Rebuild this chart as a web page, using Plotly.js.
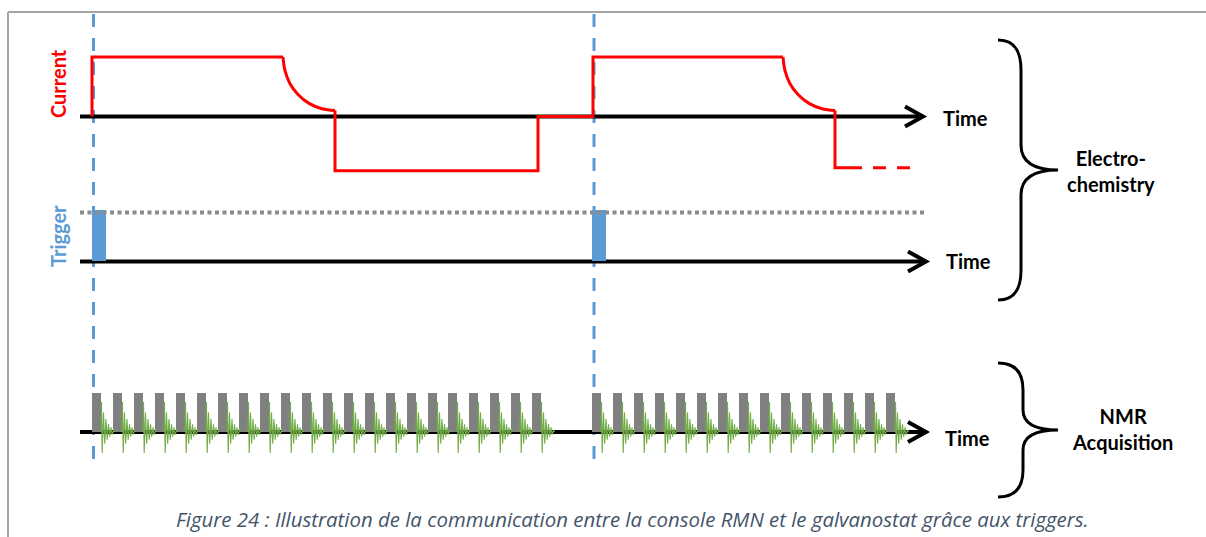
<!DOCTYPE html>
<html>
<head>
<meta charset="utf-8">
<script src="https://cdn.plot.ly/plotly-3.0.1.min.js"></script>
<style>html,body{margin:0;padding:0;background:#fff;}#chart{width:1206px;height:537px;}</style>
</head>
<body>
<div id="chart"></div>
<script>
// ---------- Current (galvanostat) waveform ----------
const currentStepT = [92, 92, 283, null, 335, 335, 538, 538, 593, 593, 783, null, 835, 835, 862];
const currentStepI = [0, 1, 1, null, 0.10, -0.91, -0.91, 0, 0, 1, 1, null, 0.10, -0.86, -0.86];
const decayStartT = [283, 783];
const decayDT = [0, 2, 7, 15, 26, 39, 52];
const decayI = [1, 0.77, 0.55, 0.37, 0.22, 0.13, 0.10];
const continuedT = [873, 910];
const continuedI = [-0.86, -0.86];

// ---------- Trigger ----------
const triggerT = [92, 592];
const triggerLevel = [1, 1];
const triggerDuration = 14;
const thresholdT = [80, 925];
const thresholdV = [0.95, 0.95];

// ---------- NMR acquisition: pulse start times and FID ----------
const pulseT = [92, 113, 134, 155, 176, 197, 218, 239, 260, 281, 302, 323, 344, 365, 386, 407, 428, 448, 469, 490, 511, 532,
                592, 613, 634, 655, 676, 697, 718, 739, 760, 781, 802, 823, 844, 865, 886];
const pulseDuration = 9;
const fidDT = [0, 0.5, 1.2, 2.5, 3.7, 5, 6.2, 7.5, 8.7, 10, 11.2, 12.5, 13.5];
const fidV  = [0, 0.77, -0.54, 0.5, -0.3, 0.33, -0.2, 0.2, -0.12, 0.12, -0.07, 0.05, 0];

// ---------- Sync markers (time of dashed lines) ----------
const syncT = [93.5, 594];

// ---------- Text ----------
const axisLabel = 'Time';
const caption = 'Figure 24 : Illustration de la communication entre la console RMN et le galvanostat grâce aux triggers.';

// build decay curves
const decX = [], decY = [];
decayStartT.forEach(t0 => { decayDT.forEach((d, i) => { decX.push(t0 + d); decY.push(decayI[i]); }); decX.push(null); decY.push(null); });
// build FIDs
const fidX = [], fidY = [];
pulseT.forEach(t0 => { fidDT.forEach((d, i) => { fidX.push(t0 + pulseDuration + d); fidY.push(fidV[i]); }); fidX.push(null); fidY.push(null); });

const RED = '#FF0000', BLUE = '#5B9BD5';

const traces = [
  {x: thresholdT, y: thresholdV, yaxis: 'y2', mode: 'lines', line: {color: '#8C8C8C', width: 4, dash: '4px,3.5px'}, hoverinfo: 'skip'},
  {type: 'bar', x: triggerT, y: triggerLevel, yaxis: 'y2', width: triggerDuration, offset: 0, base: 0, marker: {color: BLUE, line: {width: 0}}, hoverinfo: 'skip'},
  {type: 'bar', x: pulseT, y: pulseT.map(() => 1), yaxis: 'y3', width: pulseDuration, offset: 0, base: 0, marker: {color: '#808080', line: {width: 0}}, hoverinfo: 'skip'},
  {x: fidX, y: fidY, yaxis: 'y3', mode: 'lines', line: {color: '#70AD47', width: 1.1}, connectgaps: false, hoverinfo: 'skip'},
  {x: currentStepT, y: currentStepI, yaxis: 'y', mode: 'lines', line: {color: RED, width: 3}, connectgaps: false, hoverinfo: 'skip'},
  {x: decX, y: decY, yaxis: 'y', mode: 'lines', line: {color: RED, width: 3, shape: 'spline'}, connectgaps: false, hoverinfo: 'skip'},
  {x: continuedT, y: continuedI, yaxis: 'y', mode: 'lines', line: {color: RED, width: 3, dash: '13px,11px'}, hoverinfo: 'skip'}
];

// decorations in pixel space (y4 axis)
const shapes = [
  {type: 'line', xref: 'x', yref: 'y4', x0: 8, x1: 1206, y0: 12, y1: 12, line: {color: '#A5A5A5', width: 2}},
  {type: 'line', xref: 'x', yref: 'y4', x0: 8, x1: 8, y0: 12, y1: 537, line: {color: '#A5A5A5', width: 2}},
];
syncT.forEach(t => shapes.push({type: 'line', layer: 'below', xref: 'x', yref: 'y4', x0: t, x1: t, y0: 459, y1: 12, line: {color: BLUE, width: 3, dash: '13px,11px'}}));
[[116.5, 923], [261.5, 926], [432, 926]].forEach(([yp, tip]) => {
  shapes.push({type: 'line', layer: 'below', xref: 'x', yref: 'y4', x0: 80, x1: tip - 2, y0: yp, y1: yp, line: {color: '#000', width: 4}});
  shapes.push({type: 'path', layer: 'below', xref: 'x', yref: 'y4', path: `M ${tip-18} ${yp-10} L ${tip} ${yp} L ${tip-18} ${yp+10}`, line: {color: '#000', width: 4}});
});
shapes.push({type: 'path', xref: 'x', yref: 'y4', line: {color: '#000', width: 3},
  path: 'M 998 40 C 1014 40, 1021 50, 1021 70 L 1021 145 C 1021 162, 1034 170, 1058 170 C 1034 170, 1021 178, 1021 195 L 1021 270 C 1021 290, 1014 300, 998 300'});
shapes.push({type: 'path', xref: 'x', yref: 'y4', line: {color: '#000', width: 3},
  path: 'M 998 363 C 1015 363, 1023 372, 1023 390 L 1023 410 C 1023 424, 1035 430, 1058 430 C 1035 430, 1023 436, 1023 450 L 1023 470 C 1023 488, 1015 497, 998 497'});

const boldFont = {family: 'Lato, "Open Sans", sans-serif', size: 20, color: '#000', weight: 'bold'};
const ann = (text, x, y, extra) => Object.assign({text: text, x: x, y: y, xref: 'x', yref: 'y4', showarrow: false, xanchor: 'center', yanchor: 'middle',
  font: Object.assign({}, boldFont)}, extra || {});
const annotations = [
  ann('<b>' + axisLabel + '</b>', 965, 118),
  ann('<b>' + axisLabel + '</b>', 968, 261),
  ann('<b>' + axisLabel + '</b>', 967, 438),
  ann('<b>Current</b>', 58, 84, {textangle: -90, font: Object.assign({}, boldFont, {color: RED})}),
  ann('<b>Trigger</b>', 58, 236, {textangle: -90, font: Object.assign({}, boldFont, {color: BLUE})}),
  ann('<b>Electro-</b><br><b>chemistry</b>', 1111, 171),
  ann('<b>NMR</b><br><b>Acquisition</b>', 1122, 429),
  ann('<i>' + caption + '</i>', 632, 519, {font: {family: '"Open Sans", sans-serif', size: 20.4, color: '#44546A', style: 'italic'}})
];

const hidden = {visible: false, fixedrange: true};
const layout = {
  width: 1206, height: 537,
  margin: {l: 0, r: 0, t: 0, b: 0, pad: 0},
  paper_bgcolor: '#fff', plot_bgcolor: '#fff',
  showlegend: false, barmode: 'overlay',
  xaxis: Object.assign({range: [0, 1206], domain: [0, 1]}, hidden),
  yaxis: Object.assign({range: [-7.0672, 1.9580], domain: [0, 1]}, hidden),
  yaxis2: Object.assign({range: [-5.4118, 5.1176], overlaying: 'y', domain: [0, 1]}, hidden),
  yaxis3: Object.assign({range: [-2.6923, 11.0769], overlaying: 'y', domain: [0, 1]}, hidden),
  yaxis4: Object.assign({range: [537, 0], overlaying: 'y', domain: [0, 1]}, hidden),
  shapes: shapes,
  annotations: annotations
};

Plotly.newPlot('chart', traces, layout, {staticPlot: true, displayModeBar: false});
</script>
</body>
</html>
